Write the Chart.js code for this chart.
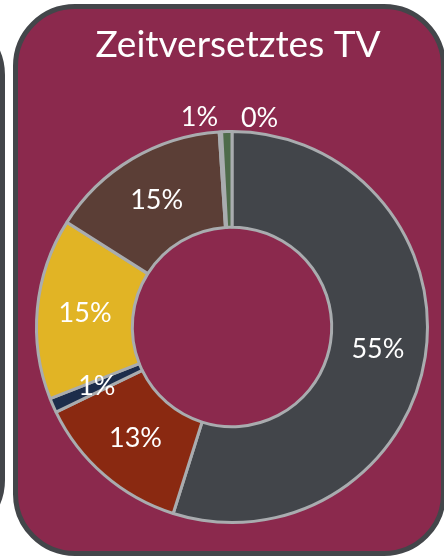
<!DOCTYPE html>
<html><head><meta charset="utf-8">
<script src="https://cdn.jsdelivr.net/npm/chart.js@4"></script>
<style>
html,body{margin:0;padding:0;background:#fff;width:444px;height:558px;overflow:hidden}
#prev{position:absolute;left:-200px;top:15px;width:205px;height:525px;box-sizing:border-box;border:5px solid #43464A;border-radius:60px;background:#fff}
#panel{position:absolute;left:13px;top:4px;width:433px;height:552px;box-sizing:border-box;border:5px solid #43464A;border-radius:62px;background:#8B294D}
#c{position:absolute;left:0;top:0}
</style></head><body>
<div id="prev"></div><div id="panel"></div>
<canvas id="c" width="444" height="558"></canvas>
<script>
const chartTitle = 'Zeitversetztes TV';
const categories = ['Segment 1','Segment 2','Segment 3','Segment 4','Segment 5','Segment 6','Segment 7'];
const shares = [55, 13, 1.2, 15, 15, 0.2, 0.85];
const pctLabels = ['55%','13%','1%','15%','15%','0%','1%'];
const sliceColors = ['#42454A','#8A2911','#1D2D4B','#E1B425','#5B3E36','#A9ACAF','#4E6B4A'];

const labelPlugin = {
  id: 'pctLabels',
  afterDatasetsDraw(chart, args, opts) {
    const ctx = chart.ctx;
    const meta = chart.getDatasetMeta(0);
    ctx.save();
    ctx.fillStyle = '#FFFFFF';
    ctx.textAlign = 'center';
    ctx.textBaseline = 'middle';
    ctx.font = '27px Lato';
    meta.data.forEach((arc, i) => {
      let p;
      const sh = opts.outside[i];
      if (sh) {
        const a = (arc.startAngle + arc.endAngle) / 2;
        const r = arc.outerRadius + sh.r;
        p = {x: arc.x + Math.cos(a) * r + sh.dx, y: arc.y + Math.sin(a) * r};
      } else {
        p = arc.tooltipPosition();
      }
      ctx.fillText(pctLabels[i], p.x, p.y);
    });
    ctx.font = '37px Lato';
    ctx.textBaseline = 'alphabetic';
    ctx.fillText(chartTitle, opts.titleX, opts.titleY);
    ctx.restore();
  }
};

function draw() {
  new Chart(document.getElementById('c'), {
    type: 'doughnut',
    data: {
      labels: categories,
      datasets: [{
        data: shares,
        backgroundColor: sliceColors,
        borderColor: '#A9ACAF',
        borderWidth: 3,
        hoverOffset: 0
      }]
    },
    options: {
      responsive: false,
      animation: false,
      cutout: '51%',
      layout: {padding: {left: 35, top: 130, right: 15, bottom: 34}},
      plugins: {
        legend: {display: false},
        tooltip: {enabled: false},
        pctLabels: {
          outside: {5: {r: 14, dx: 40}, 6: {r: 14, dx: -27}},
          titleX: 238,
          titleY: 57
        }
      }
    },
    plugins: [labelPlugin]
  });
}
Promise.all([document.fonts.load('27px Lato'), document.fonts.load('37px Lato')]).then(draw, draw);
</script>
</body></html>
